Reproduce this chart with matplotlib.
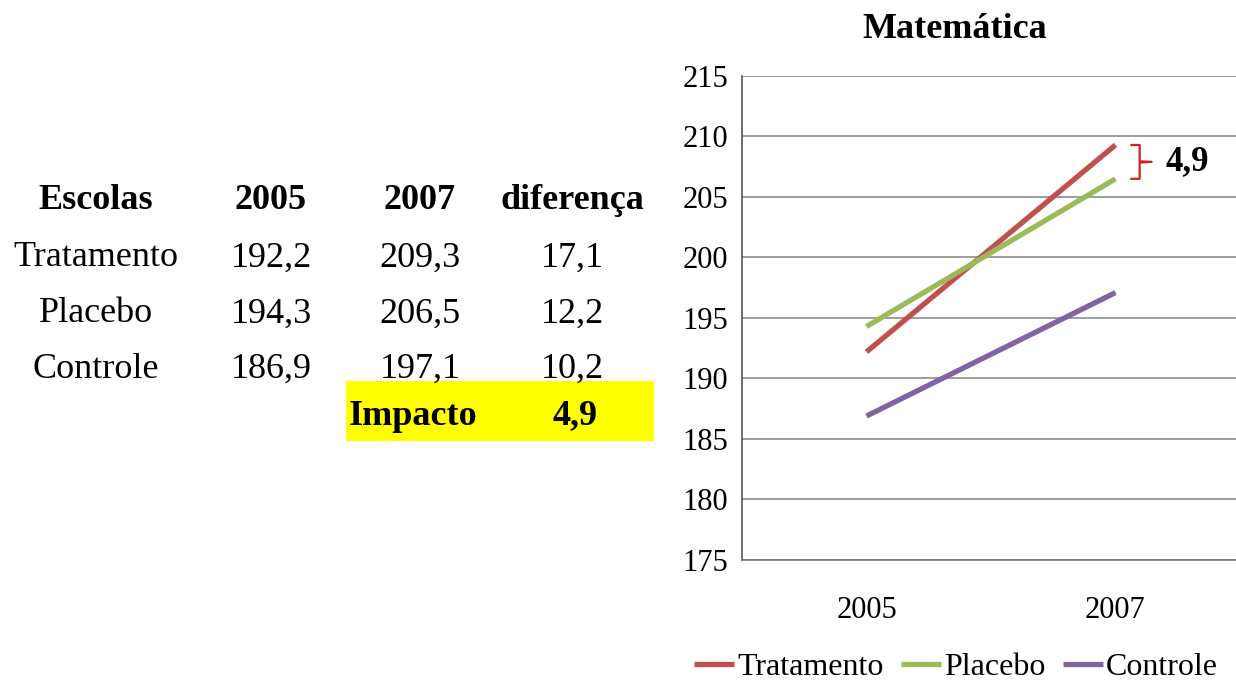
import matplotlib
matplotlib.use("Agg")
import matplotlib.pyplot as plt
from matplotlib.patches import Rectangle

plt.rcParams['font.family'] = ['Liberation Serif', 'DejaVu Serif']

years = ["2005", "2007"]
groups = ["Tratamento", "Placebo", "Controle"]
v2005 = [192.2, 194.3, 186.9]
v2007 = [209.3, 206.5, 197.1]
colors = ["#C0504D", "#9BBB59", "#8064A2"]
title = "Matemática"

W, H = 1236, 680
fig = plt.figure(figsize=(W / 100, H / 100), dpi=100)


def fx(x):
    return x / W


def fy(y):
    return 1 - y / H


def fmt(v):
    return ("%.1f" % v).replace(".", ",")


# ---- table on the left ----
diffs = [b - a for a, b in zip(v2005, v2007)]
impact = diffs[0] - diffs[1]
col_x = [96, 271, 420, 572]
row_y = [200, 258, 314, 369]
tsize = 26

fig.patches.append(Rectangle((fx(346), fy(441)), fx(654) - fx(346), fy(381) - fy(441),
                             transform=fig.transFigure, facecolor="#FFFF00",
                             edgecolor="none", zorder=0))

header = ["Escolas", "2005", "2007", "diferença"]
for x, h in zip(col_x, header):
    fig.text(fx(x), fy(row_y[0]), h, ha="center", va="center", fontsize=tsize,
             fontweight="bold")
for i, g in enumerate(groups):
    row = [g, fmt(v2005[i]), fmt(v2007[i]), fmt(diffs[i])]
    for x, t in zip(col_x, row):
        fig.text(fx(x), fy(row_y[i + 1]), t, ha="center", va="center", fontsize=tsize)
fig.text(fx(349), fy(416), "Impacto", ha="left", va="center", fontsize=tsize,
         fontweight="bold")
fig.text(fx(575), fy(416), fmt(impact), ha="center", va="center", fontsize=tsize,
         fontweight="bold")

# ---- line chart on the right ----
ax = fig.add_axes([fx(742), fy(560), fx(1240) - fx(742), fy(76) - fy(560)])
xs = list(range(len(years)))
for g, a, b, c in zip(groups, v2005, v2007, colors):
    ax.plot(xs, [a, b], color=c, lw=3.8, label=g, solid_capstyle="butt")

ax.set_xlim(-0.5, 1.5)
ax.set_ylim(175, 215)
ax.set_yticks(range(175, 216, 5))
ax.set_xticks(xs)
ax.set_xticklabels(years)
ax.tick_params(axis="both", length=0, labelsize=22, colors="black")
ax.tick_params(axis="y", pad=10)
ax.tick_params(axis="x", pad=26)
ax.grid(axis="y", color="#8C8C8C", lw=1.2)
ax.set_axisbelow(True)
for s in ["top", "right"]:
    ax.spines[s].set_visible(False)
ax.spines["left"].set_color("#555555")
ax.spines["bottom"].set_color("#777777")
ax.spines["left"].set_linewidth(1.2)
ax.spines["bottom"].set_linewidth(1.2)

# brace between Tratamento and Placebo in 2007, labelled with the impact
top, bot = v2007[0], v2007[1]
mid = (top + bot) / 2
bx = [1.064, 1.097, 1.097, 1.145, 1.097, 1.097, 1.064]
by = [top, top, mid + 0.05, mid, mid - 0.05, bot, bot]
ax.plot(bx, by, color="#D02020", lw=1.6, clip_on=False, solid_joinstyle="round")
ax.text(1.29, mid, fmt(impact), ha="center", va="center", fontsize=25,
        fontweight="bold")

fig.text(fx(955), fy(30), title, ha="center", va="center", fontsize=26,
         fontweight="bold")

ax.legend(loc="center", bbox_to_anchor=(fx(956), fy(667)), bbox_transform=fig.transFigure,
          ncol=3, frameon=False, fontsize=23, handlelength=1.25, handletextpad=0.1,
          columnspacing=0.55)

fig.savefig("out.png", dpi=100)
